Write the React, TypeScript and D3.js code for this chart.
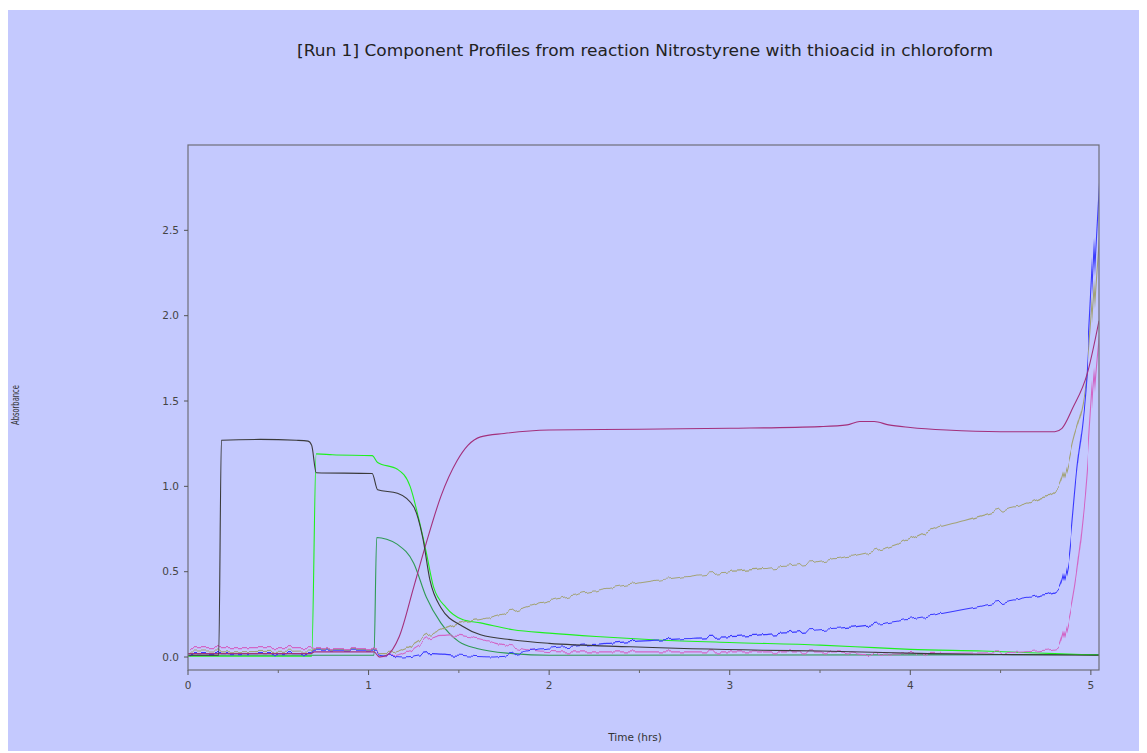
import React from "react";
import * as d3 from "d3";

type Pt = [number, number];

// Component absorbance profiles, [time (hrs), absorbance]
const darkTrace: Pt[] = [
  [0, 0.01], [0.17, 0.01], [0.185, 1.27], [0.4, 1.275], [0.6, 1.27], [0.665, 1.265],
  [0.685, 1.24], [0.71, 1.08], [1.02, 1.075], [1.05, 0.98], [1.16, 0.96], [1.25, 0.88],
  [1.3, 0.7], [1.34, 0.45], [1.4, 0.29], [1.52, 0.18], [1.62, 0.13], [1.8, 0.1],
  [2.0, 0.08], [2.45, 0.06], [3.18, 0.04], [3.5, 0.035], [4.1, 0.02], [4.5, 0.015], [5.045, 0.01],
];
const limeTrace: Pt[] = [
  [0, 0.005], [0.685, 0.005], [0.71, 1.19], [0.8, 1.185], [1.02, 1.18], [1.05, 1.14],
  [1.16, 1.1], [1.23, 1.0], [1.28, 0.8], [1.32, 0.61], [1.36, 0.41], [1.43, 0.29],
  [1.52, 0.22], [1.62, 0.2], [1.8, 0.16], [2.0, 0.14], [2.26, 0.12], [2.6, 0.1],
  [3.0, 0.085], [3.5, 0.07], [3.8, 0.055], [4.0, 0.045], [4.4, 0.035], [4.8, 0.02], [5.045, 0.01],
];
const seaGreenTrace: Pt[] = [
  [0, 0.01], [1.03, 0.01], [1.045, 0.7], [1.1, 0.69], [1.16, 0.66], [1.25, 0.55],
  [1.32, 0.35], [1.4, 0.2], [1.5, 0.09], [1.6, 0.05], [1.8, 0.02], [2.0, 0.01], [5.045, 0.015],
];
const oliveTrace: Pt[] = [
  [0, 0.035], [0.17, 0.035], [0.18, 0.03], [0.68, 0.035], [0.7, 0.045], [1.03, 0.045],
  [1.06, 0.02], [1.1, 0.02], [1.2, 0.05], [1.3, 0.11], [1.4, 0.16], [1.5, 0.2], [1.62, 0.22],
  [1.8, 0.27], [2.0, 0.33], [2.26, 0.39], [2.6, 0.45], [3.0, 0.5], [3.3, 0.53], [3.55, 0.57],
  [3.8, 0.62], [4.0, 0.69], [4.1, 0.74], [4.3, 0.8], [4.5, 0.86], [4.7, 0.92], [4.83, 1.0],
  [4.9, 1.27], [4.98, 1.66], [5.01, 2.05], [5.045, 2.58],
];
const blueTrace: Pt[] = [
  [0, 0.02], [0.68, 0.02], [0.7, 0.04], [1.03, 0.04], [1.06, 0.01], [1.2, 0.0], [1.34, 0.02],
  [1.5, 0.01], [1.7, 0.0], [1.9, 0.04], [2.2, 0.07], [2.45, 0.09], [2.8, 0.11], [3.18, 0.13],
  [3.5, 0.16], [3.8, 0.19], [4.1, 0.24], [4.4, 0.3], [4.6, 0.34], [4.82, 0.39], [4.87, 0.55],
  [4.92, 1.08], [4.98, 1.66], [5.01, 2.25], [5.045, 2.93],
];
const pinkTrace: Pt[] = [
  [0, 0.055], [0.68, 0.055], [0.7, 0.05], [1.03, 0.05], [1.06, 0.0], [1.15, 0.01], [1.25, 0.05],
  [1.34, 0.11], [1.45, 0.13], [1.55, 0.12], [1.71, 0.08], [1.9, 0.04], [2.08, 0.03], [3.0, 0.03],
  [3.6, 0.03], [3.75, 0.015], [4.0, 0.02], [4.5, 0.025], [4.82, 0.05], [4.87, 0.2], [4.92, 0.49],
  [4.98, 1.08], [5.01, 1.56], [5.045, 1.97],
];
const magentaTrace: Pt[] = [
  [0, 0.02], [0.68, 0.02], [0.7, 0.03], [1.03, 0.03], [1.06, 0.0], [1.1, 0.01], [1.17, 0.12],
  [1.25, 0.41], [1.32, 0.67], [1.4, 0.94], [1.49, 1.15], [1.55, 1.24], [1.62, 1.29], [1.75, 1.31],
  [2.0, 1.33], [2.5, 1.335], [3.0, 1.34], [3.5, 1.35], [3.65, 1.36], [3.72, 1.38], [3.8, 1.38],
  [3.88, 1.36], [4.0, 1.345], [4.2, 1.33], [4.5, 1.32], [4.8, 1.32], [4.84, 1.34], [4.9, 1.46],
  [4.98, 1.66], [5.045, 1.97],
];

const yTicks = [0, 0.5, 1.0, 1.5, 2.0, 2.5];
const xTicks = [0, 1, 2, 3, 4, 5];
const xMinorTicks = [0.5, 1.5, 2.5, 3.5, 4.5];

const TITLE = "[Run 1] Component Profiles from reaction Nitrostyrene with thioacid in chloroform";

const W = 1139;
const H = 743;
const plot = { left: 180, right: 1091, top: 135, bottom: 660 };
const BG = "#c4c9fe";
const FONT = "'DejaVu Sans', Verdana, sans-serif";

const series: { data: Pt[]; color: string; wavy: boolean }[] = [
  { data: seaGreenTrace, color: "#2f9a55", wavy: false },
  { data: limeTrace, color: "#1ef01e", wavy: false },
  { data: oliveTrace, color: "#a3a377", wavy: true },
  { data: pinkTrace, color: "#d266c6", wavy: true },
  { data: blueTrace, color: "#3a3aff", wavy: true },
  { data: magentaTrace, color: "#a3307c", wavy: false },
  { data: darkTrace, color: "#3a3a3a", wavy: false },
];

export default function App() {
  const x = d3.scaleLinear().domain([0, 5.045]).range([plot.left, plot.right]);
  const y = d3.scaleLinear().domain([-0.076, 3.0]).range([plot.bottom, plot.top]);
  const line = d3
    .line<Pt>()
    .x((d) => x(d[0]))
    .y((d) => y(d[1]))
    .curve(d3.curveMonotoneX);

  return (
    <svg
      width={W}
      height={H}
      style={{ display: "block", position: "relative", top: 2 }}
      fontFamily={FONT}
    >
      <defs>
        <filter id="ripple" filterUnits="userSpaceOnUse" x={0} y={0} width={W} height={H}>
          <feTurbulence type="fractalNoise" baseFrequency="0.14 0" numOctaves={1} seed={3} result="n" />
          <feDisplacementMap in="SourceGraphic" in2="n" scale={10} xChannelSelector="A" yChannelSelector="G" />
        </filter>
        <clipPath id="plotClip">
          <rect x={plot.left} y={plot.top - 2} width={plot.right - plot.left} height={plot.bottom - plot.top + 2} />
        </clipPath>
      </defs>
      <rect x={0} y={0} width={W} height={H} fill={BG} />

      <text x={637} y={46} textAnchor="middle" fontSize={15}
        fill="#222" textLength={696} lengthAdjust="spacingAndGlyphs">
        {TITLE}
      </text>

      <g clipPath="url(#plotClip)">
        {series.map((s, i) => (
          <path
            key={i}
            d={line(s.data) || ""}
            fill="none"
            stroke={s.color}
            strokeWidth={1.1}
            filter={s.wavy ? "url(#ripple)" : undefined}
          />
        ))}
      </g>

      {/* frame */}
      <rect x={plot.left} y={plot.top} width={plot.right - plot.left} height={plot.bottom - plot.top}
        fill="none" stroke="#6e6e78" strokeWidth={1.2} />

      {/* y axis */}
      {yTicks.map((t) => (
        <g key={t} transform={`translate(0,${y(t)})`}>
          <line x1={plot.left - 4} x2={plot.left} stroke="#555" />
          <text x={plot.left - 9} dy="0.35em" textAnchor="end" fontSize={10.5} fill="#444">
            {d3.format(".1f")(t)}
          </text>
        </g>
      ))}

      {/* x axis */}
      {xTicks.map((t) => (
        <g key={t} transform={`translate(${x(t)},0)`}>
          <line y1={plot.bottom} y2={plot.bottom + 5} stroke="#555" />
          <text y={plot.bottom + 19} textAnchor="middle" fontSize={10.5} fill="#444">
            {t}
          </text>
        </g>
      ))}
      {xMinorTicks.map((t) => (
        <line key={t} x1={x(t)} x2={x(t)} y1={plot.bottom} y2={plot.bottom + 3} stroke="#666" />
      ))}

      <text x={627} y={731} textAnchor="middle" fontSize={10.5} fill="#333">Time (hrs)</text>
      <text transform="translate(11,395) rotate(-90)" textAnchor="middle" fontSize={11} fill="#333"
        textLength={40} lengthAdjust="spacingAndGlyphs">
        Absorbance
      </text>
    </svg>
  );
}
